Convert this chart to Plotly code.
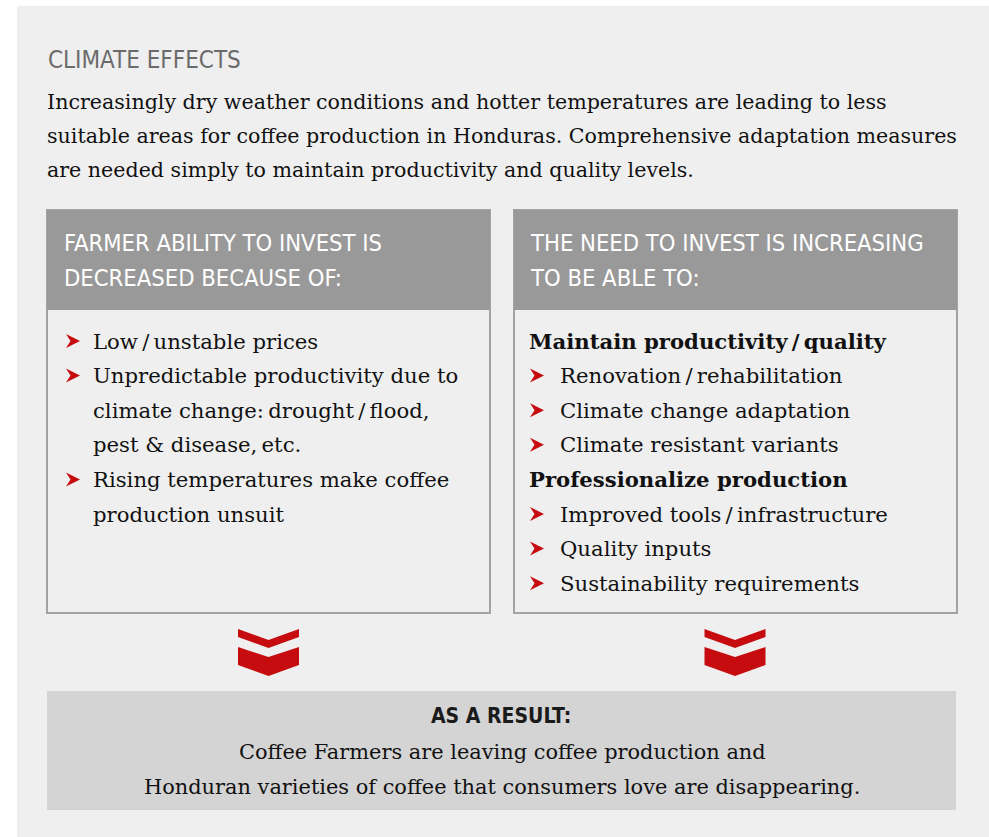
import plotly.graph_objects as go

# ---- content ----
title_text = "CLIMATE EFFECTS"
intro_lines = [
    "Increasingly dry weather conditions and hotter temperatures are leading to less",
    "suitable areas for coffee production in Honduras. Comprehensive adaptation measures",
    "are needed simply to maintain productivity and quality levels.",
]
left_header = ["FARMER ABILITY TO INVEST IS", "DECREASED BECAUSE OF:"]
# (text, kind) kind: 'b' bullet, 'c' continuation, 'h' bold heading
left_items = [
    ("Low\u2009/\u2009unstable prices", "b"),
    ("Unpredictable productivity due to", "b"),
    ("climate change:\u2009drought\u2009/\u2009flood,", "c"),
    ("pest & disease,\u2009etc.", "c"),
    ("Rising temperatures make coffee", "b"),
    ("production unsuit", "c"),
]
right_header = ["THE NEED TO INVEST IS INCREASING", "TO BE ABLE TO:"]
right_items = [
    ("Maintain productivity\u2009/\u2009quality", "h"),
    ("Renovation\u2009/\u2009rehabilitation", "b"),
    ("Climate change adaptation", "b"),
    ("Climate resistant variants", "b"),
    ("Professionalize production", "h"),
    ("Improved tools\u2009/\u2009infrastructure", "b"),
    ("Quality inputs", "b"),
    ("Sustainability requirements", "b"),
]
result_header = "AS A RESULT:"
result_lines = [
    "Coffee Farmers are leaving coffee production and",
    "Honduran varieties of coffee that consumers love are disappearing.",
]

# ---- style ----
W, H = 989, 837
SERIF = "DejaVu Serif, serif"
COND = "Liberation Sans Narrow, DejaVu Sans Condensed, Roboto, sans-serif"
RED = "#c60c0f"
PANEL = "#efefef"
HEAD_FILL = "#999999"
BORDER = "#a3a3a3"
RESULT_FILL = "#d4d4d4"
TXT = "#111111"
BODY = 21.2
INTRO = 20.6

fig = go.Figure()
shapes = []
annots = []

def rect(x0, y0, x1, y1, fill, line=None, lw=0):
    shapes.append(dict(type="rect", xref="x", yref="y", x0=x0, y0=y0, x1=x1, y1=y1,
                       fillcolor=fill, line=dict(color=line or fill, width=lw), layer="below"))

def text(x, y, s, size, color=TXT, family=SERIF, xanchor="left"):
    if xanchor == "left":
        x = x - 2  # compensate annotation padding
    annots.append(dict(x=x, y=y, xref="x", yref="y", text=s, showarrow=False,
                       xanchor=xanchor, yanchor="middle",
                       font=dict(size=size, color=color, family=family)))

def bullet(x, y):
    w, h, n = 14, 14, 4.5
    p = f"M {x} {y-h/2} L {x+w} {y} L {x} {y+h/2} L {x+n} {y} Z"
    shapes.append(dict(type="path", xref="x", yref="y", path=p, fillcolor=RED,
                       line=dict(width=0), layer="above"))

def chevron(cx):
    hw = 30.5
    p1 = (f"M {cx-hw} 629 L {cx} 640 L {cx+hw} 629 L {cx+hw} 637 "
          f"L {cx} 648 L {cx-hw} 637 Z")
    p2 = (f"M {cx-hw} 647 L {cx} 657 L {cx+hw} 647 L {cx+hw} 665 "
          f"L {cx} 676 L {cx-hw} 665 Z")
    for p in (p1, p2):
        shapes.append(dict(type="path", xref="x", yref="y", path=p, fillcolor=RED,
                           line=dict(width=0), layer="above"))

# panel
rect(17, 6, W, H, PANEL)

# title + intro
text(48, 60, title_text, 24, color="#6b6b6b", family=COND)
for i, s in enumerate(intro_lines):
    text(47, 102 + i * 34, s, INTRO)

# boxes
boxes = [(47, 490, left_header, left_items, 66, 93, 64),
         (514, 957, right_header, right_items, 530, 560, 530)]
for x0, x1, hdr, items, bx, tx, hx in boxes:
    rect(x0, 210, x1, 613, PANEL, BORDER, 2)
    rect(x0, 210, x1, 310, HEAD_FILL)
    for i, s in enumerate(hdr):
        text(hx, 243 + i * 35, s, 23.6, color="white", family=COND)
    for i, (s, kind) in enumerate(items):
        y = 341 + i * 34.6
        if kind == "h":
            text(bx - 1, y, "<b>" + s + "</b>", BODY)
        elif kind == "b":
            bullet(bx, y)
            text(tx, y, s, BODY)
        else:
            text(tx, y, s, BODY)

# chevrons
chevron(268.5)
chevron(735)

# result box
rect(47, 691, 956, 810, RESULT_FILL)
text(501, 716, "<b>" + result_header + "</b>", 21, color="#1a1a1a", family=COND, xanchor="center")
for i, s in enumerate(result_lines):
    text(502, 752 + i * 35, s, 20.9, xanchor="center")

fig.update_layout(
    width=W, height=H, margin=dict(l=0, r=0, t=0, b=0),
    paper_bgcolor="white", plot_bgcolor="white",
    xaxis=dict(range=[0, W], visible=False, fixedrange=True),
    yaxis=dict(range=[H, 0], visible=False, fixedrange=True),
    shapes=shapes, annotations=annots, showlegend=False,
)
fig.write_html("out.html", config={"displayModeBar": False},
               post_script="document.body.style.margin='0';")
